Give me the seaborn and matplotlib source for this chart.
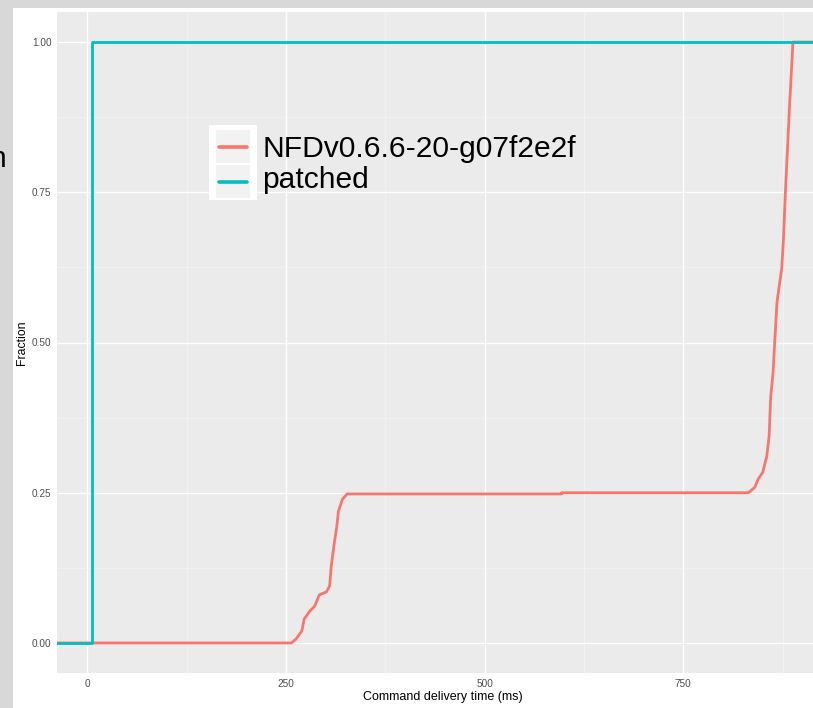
import numpy as np
import pandas as pd
import matplotlib
matplotlib.use("Agg")
import matplotlib.pyplot as plt
import seaborn as sns
from matplotlib.patches import Rectangle
from matplotlib.lines import Line2D

# ---------------- data ----------------
series_names = ["NFDv0.6.6-20-g07f2e2f", "patched"]
series_colors = ["#F8766D", "#00BFC4"]

nfd_ms = [257, 263, 270, 273, 280, 286, 292, 301, 305, 307, 311, 314, 316, 321, 327,
          597, 597, 832, 840, 844, 850, 853, 855, 858, 860, 863, 865, 868, 874, 876,
          878.5, 883, 888]
nfd_frac = [0.0, 0.007, 0.02, 0.04, 0.053, 0.061, 0.08, 0.085, 0.095, 0.128, 0.168, 0.194,
            0.219, 0.239, 0.248, 0.248, 0.25, 0.25, 0.259, 0.272, 0.284, 0.30, 0.31, 0.344,
            0.41, 0.45, 0.50, 0.568, 0.625, 0.671, 0.75, 0.875, 1.0]

patched_ms = [6, 6]
patched_frac = [0.0, 1.0]

x_ticks = [0, 250, 500, 750]
x_minor = [125, 375, 625, 875]
y_ticks = [0.0, 0.25, 0.5, 0.75, 1.0]
y_minor = [0.125, 0.375, 0.625, 0.875]
y_tick_labels = ["0.00", "0.25", "0.50", "0.75", "1.00"]
x_title = "Command delivery time (ms)"
y_title = "Fraction"

# ---------------- style ----------------
sns.set_theme(style="darkgrid")
plt.rcParams["font.family"] = ["Liberation Sans", "DejaVu Sans"]

W, H = 813, 708
fig = plt.figure(figsize=(W / 100, H / 100), dpi=100, facecolor="white")


def box(x0, y0, x1, y1):
    return [x0 / W, 1 - y1 / H, (x1 - x0) / W, (y1 - y0) / H]


# screenshot frame (grey band at left and top)
fig.add_artist(Rectangle((0, 0), 13 / W, 1, transform=fig.transFigure,
                         facecolor="#D8D8D8", edgecolor="none", zorder=-5))
fig.add_artist(Rectangle((0, 1 - 8 / H), 1, 8 / H, transform=fig.transFigure,
                         facecolor="#D8D8D8", edgecolor="none", zorder=-5))

ax = fig.add_axes(box(57, 12, 828, 673))
ax.set_facecolor("#EBEBEB")

all_ms = nfd_ms + patched_ms
lo, hi = min(all_ms), max(all_ms)
pad = 0.05 * (hi - lo)
xlo, xhi = lo - pad, hi + pad

rows = []
for name, ms, fr in [(series_names[0], nfd_ms, nfd_frac),
                     (series_names[1], patched_ms, patched_frac)]:
    xs = [xlo] + list(ms) + [xhi]
    ys = [0.0] + list(fr) + [1.0]
    for x, y in zip(xs, ys):
        rows.append({"series": name, "ms": x, "frac": y})
df = pd.DataFrame(rows)

sns.lineplot(data=df, x="ms", y="frac", hue="series", hue_order=series_names,
             palette=series_colors, estimator=None, sort=False, legend=False,
             linewidth=2.0, ax=ax)

ax.set_xlim(xlo, xhi)
ax.set_ylim(-0.05, 1.05)
for s in ax.spines.values():
    s.set_visible(False)

ax.set_xticks(x_ticks)
ax.set_xticklabels([str(t) for t in x_ticks])
ax.set_yticks(y_ticks)
ax.set_yticklabels(y_tick_labels)
ax.set_xticks(x_minor, minor=True)
ax.set_yticks(y_minor, minor=True)
ax.grid(True, which="major", color="white", linewidth=1.0)
ax.grid(True, which="minor", color="#F5F5F5", linewidth=0.5)
ax.tick_params(axis="both", which="major", length=2.5, width=0.8, color="#333333",
               labelsize=7.2, labelcolor="#4D4D4D")
ax.tick_params(axis="x", which="major", pad=2.0)
ax.tick_params(axis="y", which="major", pad=1.5)
ax.tick_params(axis="both", which="minor", length=0)

ax.set_xlabel(x_title, fontsize=9, color="black", va="center")
ax.set_ylabel(y_title, fontsize=8.8, color="black", va="center")
ax.xaxis.set_label_coords(0.5, (673 - 697) / 661)
ax.yaxis.set_label_coords((22 - 57) / 771, 0.5)

# ---------------- legend (manual, ggplot-style) ----------------
fig.add_artist(Rectangle((209 / W, 1 - 200 / H), 48 / W, 75 / H, transform=fig.transFigure,
                         facecolor="white", edgecolor="none", zorder=5))
key_tops = [130, 165]
baselines = [157, 188]
for i, name in enumerate(series_names):
    t = key_tops[i]
    fig.add_artist(Rectangle((216 / W, 1 - (t + 33) / H), 34 / W, 33 / H,
                             transform=fig.transFigure, facecolor="#F2F2F2",
                             edgecolor="none", zorder=6))
    yc = 1 - (t + 16.5) / H
    fig.add_artist(Line2D([219 / W, 247 / W], [yc, yc], transform=fig.transFigure,
                          color=series_colors[i], linewidth=2.6, zorder=7))
    fig.text(262 / W, 1 - baselines[i] / H, name, fontsize=21.6, color="black",
             ha="left", va="baseline", zorder=8)

# fragment of text cut off at the left border of the screenshot (as in the reference)
fig.text(7 / W, 1 - 167 / H, "n", fontsize=21.6, color="black", ha="right", va="baseline")

fig.savefig("out.png", dpi=100, facecolor="white")
